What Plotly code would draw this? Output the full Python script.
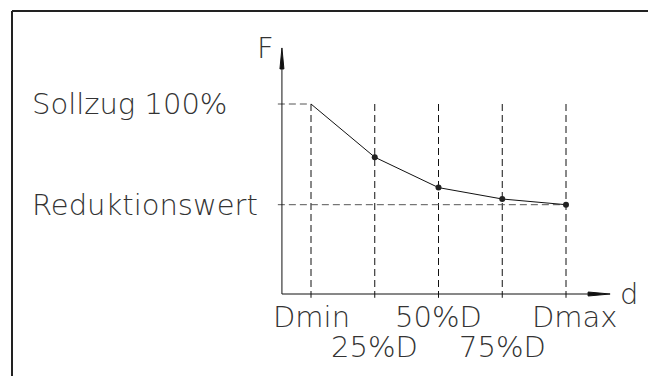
import plotly.graph_objects as go

# chart values
d_pos = [0, 25, 50, 75, 100]
d_labels = ["Dmin", "25%D", "50%D", "75%D", "Dmax"]
F_curve = [100, 72, 56, 50, 47]
F_soll = 100
F_red = 47
y_labels = ["Sollzug 100%", "Reduktionswert"]
y_label_vals = [F_soll, F_red]

# page body has an 8px margin, so the figure is a bit smaller than the window
W, H = 648, 368
sx, sy = 2.55, 1.9            # px per data unit
x0_px, y0_px = 303, 286       # where d=0 / F=0 land in the figure
x_range = [-x0_px / sx, (W - x0_px) / sx]
y_range = [(y0_px - H) / sy, y0_px / sy]

ox, oy = -11.4, 0             # axis origin
x_tip, y_tip = 117.3, 129.5

FONT = dict(family="DejaVu Sans", size=29, color="#333", weight=200)
INK = "#111"

fig = go.Figure()

# vertical dashed guides
vx, vy = [], []
for d in d_pos:
    vx += [d, d, None]
    vy += [F_soll, oy - 2, None]
fig.add_trace(go.Scatter(x=vx, y=vy, mode="lines",
                         line=dict(color=INK, width=1, dash="7px,4px"),
                         hoverinfo="skip"))

# horizontal dashed guides
fig.add_trace(go.Scatter(x=[ox - 1.6, d_pos[0], None, ox - 1.6, d_pos[-1]],
                         y=[F_soll, F_soll, None, F_red, F_red], mode="lines",
                         line=dict(color="#555", width=1, dash="7px,4px"),
                         hoverinfo="skip"))

# axes
fig.add_trace(go.Scatter(x=[ox, x_tip - 6, None, ox, ox], y=[oy, oy, None, oy, y_tip - 8],
                         mode="lines", line=dict(color=INK, width=1), hoverinfo="skip"))

# curve
fig.add_trace(go.Scatter(x=d_pos, y=F_curve, mode="lines",
                         line=dict(color=INK, width=1), hoverinfo="skip"))
fig.add_trace(go.Scatter(x=d_pos[1:], y=F_curve[1:], mode="markers",
                         marker=dict(color="#222", size=6), hoverinfo="skip"))

# arrow heads
hl_x, hw_x = 22 / sx, 2 / sy
hl_y, hw_y = 21 / sy, 2 / sx
fig.add_shape(type="path", fillcolor=INK, line=dict(color=INK, width=1),
              path=f"M {x_tip} {oy} L {x_tip - hl_x} {oy + hw_x} L {x_tip - hl_x} {oy - hw_x} Z")
fig.add_shape(type="path", fillcolor=INK, line=dict(color=INK, width=1),
              path=f"M {ox} {y_tip} L {ox - hw_y} {y_tip - hl_y} L {ox + hw_y} {y_tip - hl_y} Z")

# frame
fx, fy = 4 / W, 1 - 3 / H
fig.add_shape(type="line", xref="paper", yref="paper", x0=fx, y0=fy, x1=1.02, y1=fy,
              line=dict(color="#222", width=2))
fig.add_shape(type="line", xref="paper", yref="paper", x0=fx, y0=fy, x1=fx, y1=-0.03,
              line=dict(color="#222", width=2))

# labels
for txt, v in zip(y_labels, y_label_vals):
    fig.add_annotation(x=22 / W, xref="paper", y=v, yref="y", text=txt, showarrow=False,
                       xanchor="left", yanchor="middle", font=FONT)
for i, (txt, d) in enumerate(zip(d_labels, d_pos)):
    shift = -23 if i % 2 == 0 else -53
    xs = 9 if i == len(d_pos) - 1 else 0
    fig.add_annotation(x=d, y=oy, text=txt, showarrow=False, xanchor="center",
                       yanchor="middle", yshift=shift, xshift=xs, font=FONT)
fig.add_annotation(x=ox, y=y_tip, text="F", showarrow=False, xanchor="right",
                   yanchor="middle", xshift=-6, font=FONT)
fig.add_annotation(x=x_tip, y=oy, text="d", showarrow=False, xanchor="left",
                   yanchor="middle", xshift=8, font=FONT)

fig.update_xaxes(visible=False, range=x_range, fixedrange=True)
fig.update_yaxes(visible=False, range=y_range, fixedrange=True)
fig.update_layout(width=W, height=H, margin=dict(l=0, r=0, t=0, b=0),
                  paper_bgcolor="white", plot_bgcolor="white", showlegend=False)

fig.write_html("out.html")
